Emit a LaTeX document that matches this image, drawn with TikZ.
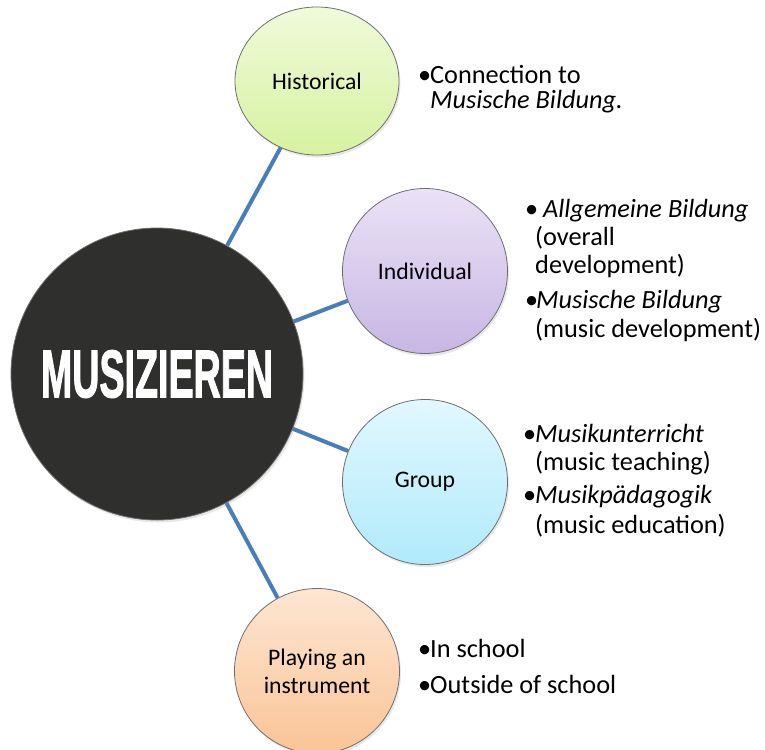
\documentclass[tikz,border=0pt]{standalone}
\usepackage{fontspec}
\setmainfont{Carlito}
\newfontfamily\headfont{Liberation Sans}[BoldFeatures={FakeBold=2}]
\usetikzlibrary{shapes.geometric,shadows}
\definecolor{linkblue}{HTML}{4A7EBB}
\definecolor{rimgray}{HTML}{6E6E6E}
\definecolor{hubfill}{HTML}{2F2F2D}
\newcommand{\bul}[1][12bp]{\makebox[#1][l]{•}}
\tikzset{
  softshadow/.style={drop shadow={opacity=0.18, shadow xshift=1.5bp, shadow yshift=-2.5bp}},
  hub/.style={circle, draw=rimgray, line width=0.8pt, fill=hubfill, minimum size=292bp, inner sep=0pt, softshadow},
  topic/.style={circle, draw=rimgray, line width=0.8pt, minimum size=165bp, inner sep=0pt, align=center,
    font=\fontsize{23.8}{28}\selectfont, softshadow},
  link/.style={draw=linkblue, line width=4bp},
  txt/.style={anchor=base west, inner sep=0pt, font=\fontsize{26.4}{28}\selectfont}
}
\begin{document}
\begin{tikzpicture}[x=1bp, y=-1bp]
\useasboundingbox (0,0) rectangle (765,750);
\fill[white] (0,0) rectangle (765,750);
\node[hub] (hub) at (157,374) {\resizebox{232bp}{47bp}{\color{white}\headfont\bfseries MUSIZIEREN}};
\node[topic, ellipse, minimum width=164bp, minimum height=148bp, top color={rgb,255:red,240;green,250;blue,218}, bottom color={rgb,255:red,214;green,242;blue,160}] (hist) at (317,81) {Historical};
\node[topic, top color={rgb,255:red,234;green,226;blue,246}, bottom color={rgb,255:red,200;green,182;blue,228}] (ind) at (425,271) {Individual};
\node[topic, top color={rgb,255:red,226;green,248;blue,254}, bottom color={rgb,255:red,176;green,234;blue,251}] (grp) at (425,482) {Group};
\node[topic, top color={rgb,255:red,253;green,230;blue,210}, bottom color={rgb,255:red,250;green,196;blue,150}] (play) at (317,671) {Playing an\\instrument};
\draw[link] (hub) -- (hist);
\draw[link] (hub) -- (ind);
\draw[link] (hub) -- (grp);
\draw[link] (hub) -- (play);
\node[txt] (h1) at (418,83) {\bul Connection to};
\node[txt] (h2) at (430,108) {\textit{Musische Bildung.}};
\node[txt] (i1) at (525,217) {\bul[18bp]\textit{Allgemeine Bildung}};
\node[txt] (i2) at (535,245) {(overall};
\node[txt] (i3) at (535,273) {development)};
\node[txt] (i4) at (525,308) {\bul[11bp]\textit{Musische Bildung}};
\node[txt] (i5) at (535,337) {(music development)};
\node[txt] (g1) at (523,442) {\bul\textit{Musikunterricht}};
\node[txt] (g2) at (535,470) {(music teaching)};
\node[txt] (g3) at (523,503) {\bul\textit{Musikpädagogik}};
\node[txt] (g4) at (535,533) {(music education)};
\node[txt] (p1) at (418,657) {\bul In school};
\node[txt] (p2) at (418,693) {\bul Outside of school};
\end{tikzpicture}
\end{document}
